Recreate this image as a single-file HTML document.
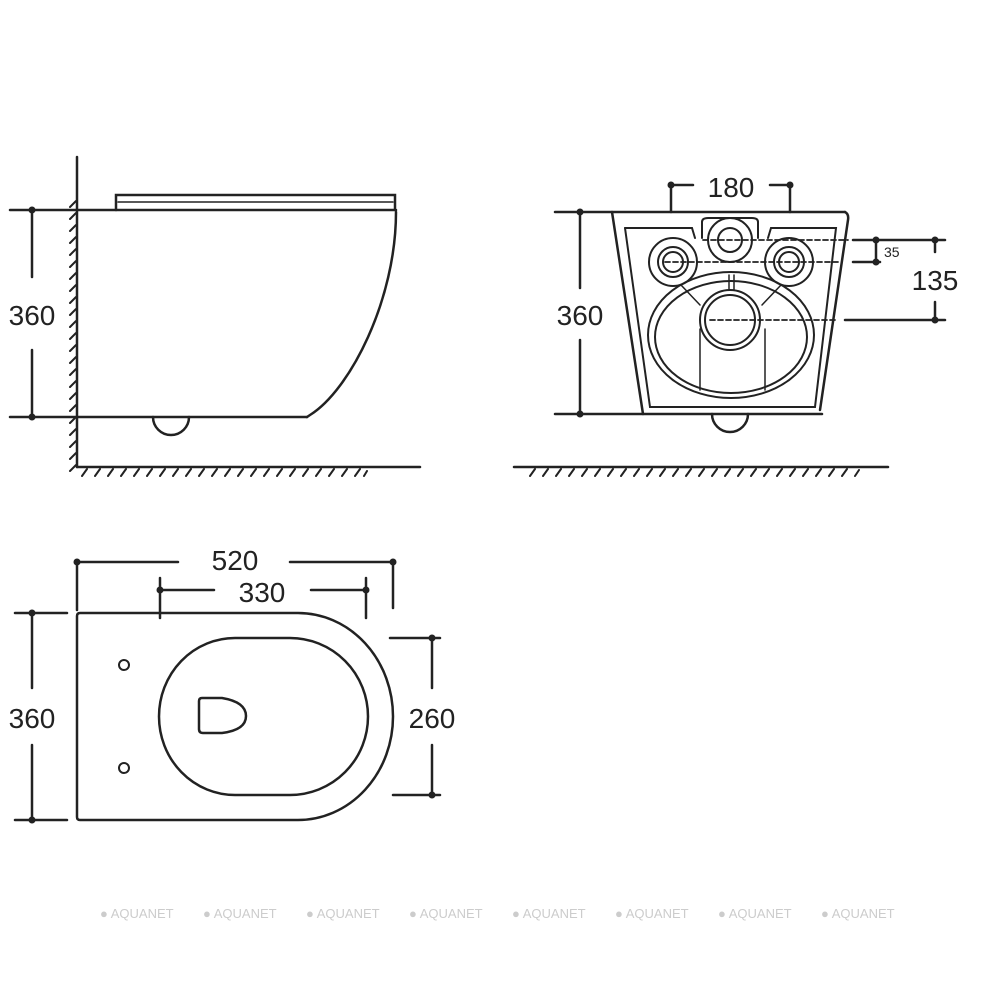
<!DOCTYPE html>
<html><head><style>body{margin:0;background:#fff}svg{display:block}text{font-family:"Liberation Sans",sans-serif;fill:#222}</style></head><body>
<svg width="1000" height="1000" viewBox="0 0 1000 1000" xmlns="http://www.w3.org/2000/svg">
<g stroke="#222" stroke-width="2.5" fill="none" stroke-linecap="round">
<!-- Side view -->
<line x1="77" y1="157" x2="77" y2="467"/>
<line x1="77" y1="467" x2="420" y2="467"/>
<g stroke-width="2">
<path d="M70,207 l6,-6 M70,219 l6,-6 M70,231 l6,-6 M70,243 l6,-6 M70,255 l6,-6 M70,267 l6,-6 M70,279 l6,-6 M70,291 l6,-6 M70,303 l6,-6 M70,315 l6,-6 M70,327 l6,-6 M70,339 l6,-6 M70,351 l6,-6 M70,363 l6,-6 M70,375 l6,-6 M70,387 l6,-6 M70,399 l6,-6 M70,411 l6,-6 M70,423 l6,-6 M70,435 l6,-6 M70,447 l6,-6 M70,459 l6,-6 M70,471 l6,-6"/>
<path d="M82,476 l5,-7 M95,476 l5,-7 M108,476 l5,-7 M121,476 l5,-7 M134,476 l5,-7 M147,476 l5,-7 M160,476 l5,-7 M173,476 l5,-7 M186,476 l5,-7 M199,476 l5,-7 M212,476 l5,-7 M225,476 l5,-7 M238,476 l5,-7 M251,476 l5,-7 M264,476 l5,-7 M277,476 l5,-7 M290,476 l5,-7 M303,476 l5,-7 M316,476 l5,-7 M329,476 l5,-7 M342,476 l5,-7 M355,476 l5,-7 M364,476 l3,-5"/>
</g>
<path d="M116,210 L116,195 L395,195 L395,210"/>
<line x1="118" y1="202" x2="393" y2="202" stroke-width="1.5"/>
<line x1="10" y1="210" x2="396" y2="210"/>
<line x1="10" y1="417" x2="307" y2="417"/>
<path d="M396,212 C396,300 350,390 310,415 L307,417"/>
<path d="M153,417 A18,18 0 0 0 189,417"/>
<line x1="32" y1="210" x2="32" y2="277"/><line x1="32" y1="350" x2="32" y2="417"/>
<!-- Front view -->
<line x1="555" y1="212" x2="845" y2="212"/>
<path d="M612,212 L643,414 M845,212 Q849,214 848,220 L820,410"/>
<line x1="555" y1="414" x2="822" y2="414"/>
<path d="M625,228 L692,228 L695,238" stroke-width="2"/>
<path d="M768,238 L771,228 L836,228 L815,407 L650,407 L625,228" stroke-width="2"/>
<path d="M702,238 L702,222 Q702,218 708,218 L752,218 Q758,218 758,222 L758,238" stroke-width="2"/>
<circle cx="730" cy="240" r="22" stroke-width="2"/><circle cx="730" cy="240" r="12" stroke-width="2"/>
<circle cx="673" cy="262" r="24" stroke-width="2"/><circle cx="673" cy="262" r="15" stroke-width="2"/><circle cx="673" cy="262" r="10" stroke-width="2"/>
<circle cx="789" cy="262" r="24" stroke-width="2"/><circle cx="789" cy="262" r="15" stroke-width="2"/><circle cx="789" cy="262" r="10" stroke-width="2"/>
<ellipse cx="731" cy="335" rx="83" ry="63" stroke-width="2"/>
<ellipse cx="731" cy="337" rx="76" ry="56" stroke-width="2"/>
<circle cx="730" cy="320" r="30" stroke-width="2"/><circle cx="730" cy="320" r="25" stroke-width="2"/>
<path d="M700,329 L700,390 M765,329 L765,390 M681,285 L700,305 M781,285 L762,305 M729,275 L729,290 M734,275 L734,290" stroke-width="1.5"/>
<g stroke-dasharray="5,3" stroke-width="1.8">
<line x1="703" y1="240" x2="848" y2="240"/><line x1="665" y1="262" x2="838" y2="262"/><line x1="710" y1="320" x2="835" y2="320"/>
</g>
<line x1="853" y1="240" x2="945" y2="240"/><line x1="853" y1="262" x2="880" y2="262"/><line x1="845" y1="320" x2="945" y2="320"/>
<line x1="876" y1="240" x2="876" y2="262"/>
<line x1="935" y1="240" x2="935" y2="252"/><line x1="935" y1="302" x2="935" y2="320"/>
<line x1="580" y1="212" x2="580" y2="288"/><line x1="580" y1="340" x2="580" y2="414"/>
<path d="M671,212 L671,185 L693,185 M770,185 L790,185 L790,212"/>
<path d="M712,414 A18,18 0 0 0 748,414"/>
<line x1="514" y1="467" x2="888" y2="467"/>
<path stroke-width="2" d="M530,476 l5,-7 M543,476 l5,-7 M556,476 l5,-7 M569,476 l5,-7 M582,476 l5,-7 M595,476 l5,-7 M608,476 l5,-7 M621,476 l5,-7 M634,476 l5,-7 M647,476 l5,-7 M660,476 l5,-7 M673,476 l5,-7 M686,476 l5,-7 M699,476 l5,-7 M712,476 l5,-7 M725,476 l5,-7 M738,476 l5,-7 M751,476 l5,-7 M764,476 l5,-7 M777,476 l5,-7 M790,476 l5,-7 M803,476 l5,-7 M816,476 l5,-7 M829,476 l5,-7 M842,476 l5,-7 M855,476 l4,-6"/>
<!-- Top view -->
<path d="M80,613 L298,613 A95,103.5 0 0 1 298,820 L80,820 Q77,820 77,817 L77,616 Q77,613 80,613 Z"/>
<path d="M235,638 L290,638 A78,78.5 0 0 1 290,795 L235,795 A76,78.5 0 0 1 235,638 Z"/>
<circle cx="124" cy="665" r="5" stroke-width="2"/><circle cx="124" cy="768" r="5" stroke-width="2"/>
<path d="M202,698 L222,698 Q246,702 246,716 Q246,730 222,733 L203,733 Q199,733 199,729 L199,701 Q199,698 202,698 Z"/>
<path d="M77,610 L77,562 L178,562 M290,562 L393,562 L393,608"/>
<path d="M160,618 L160,578 M160,590 L214,590 M311,590 L366,590 M366,578 L366,618"/>
<path d="M15,613 L67,613 M15,820 L67,820 M32,613 L32,688 M32,745 L32,820"/>
<path d="M390,638 L440,638 M393,795 L440,795 M432,638 L432,688 M432,745 L432,795"/>
</g>
<g fill="#222">
<circle cx="32" cy="210" r="3.5"/><circle cx="32" cy="417" r="3.5"/>
<circle cx="580" cy="212" r="3.5"/><circle cx="580" cy="414" r="3.5"/>
<circle cx="671" cy="185" r="3.5"/><circle cx="790" cy="185" r="3.5"/>
<circle cx="876" cy="240" r="3.5"/><circle cx="876" cy="262" r="3.5"/>
<circle cx="935" cy="240" r="3.5"/><circle cx="935" cy="320" r="3.5"/>
<circle cx="77" cy="562" r="3.5"/><circle cx="393" cy="562" r="3.5"/>
<circle cx="160" cy="590" r="3.5"/><circle cx="366" cy="590" r="3.5"/>
<circle cx="32" cy="613" r="3.5"/><circle cx="32" cy="820" r="3.5"/>
<circle cx="432" cy="638" r="3.5"/><circle cx="432" cy="795" r="3.5"/>
</g>
<g font-size="28" text-anchor="middle">
<text x="32" y="325">360</text>
<text x="580" y="325">360</text>
<text x="731" y="197">180</text>
<text x="935" y="290">135</text>
<text x="235" y="570">520</text>
<text x="262" y="602">330</text>
<text x="32" y="728">360</text>
<text x="432" y="728">260</text>
</g>
<text x="884" y="257" font-size="14">35</text>
<g font-size="13">
<text x="100" y="918" style="fill:#ccc">● AQUANET</text>
<text x="203" y="918" style="fill:#ccc">● AQUANET</text>
<text x="306" y="918" style="fill:#ccc">● AQUANET</text>
<text x="409" y="918" style="fill:#ccc">● AQUANET</text>
<text x="512" y="918" style="fill:#ccc">● AQUANET</text>
<text x="615" y="918" style="fill:#ccc">● AQUANET</text>
<text x="718" y="918" style="fill:#ccc">● AQUANET</text>
<text x="821" y="918" style="fill:#ccc">● AQUANET</text>
</g>
</svg>
</body></html>
